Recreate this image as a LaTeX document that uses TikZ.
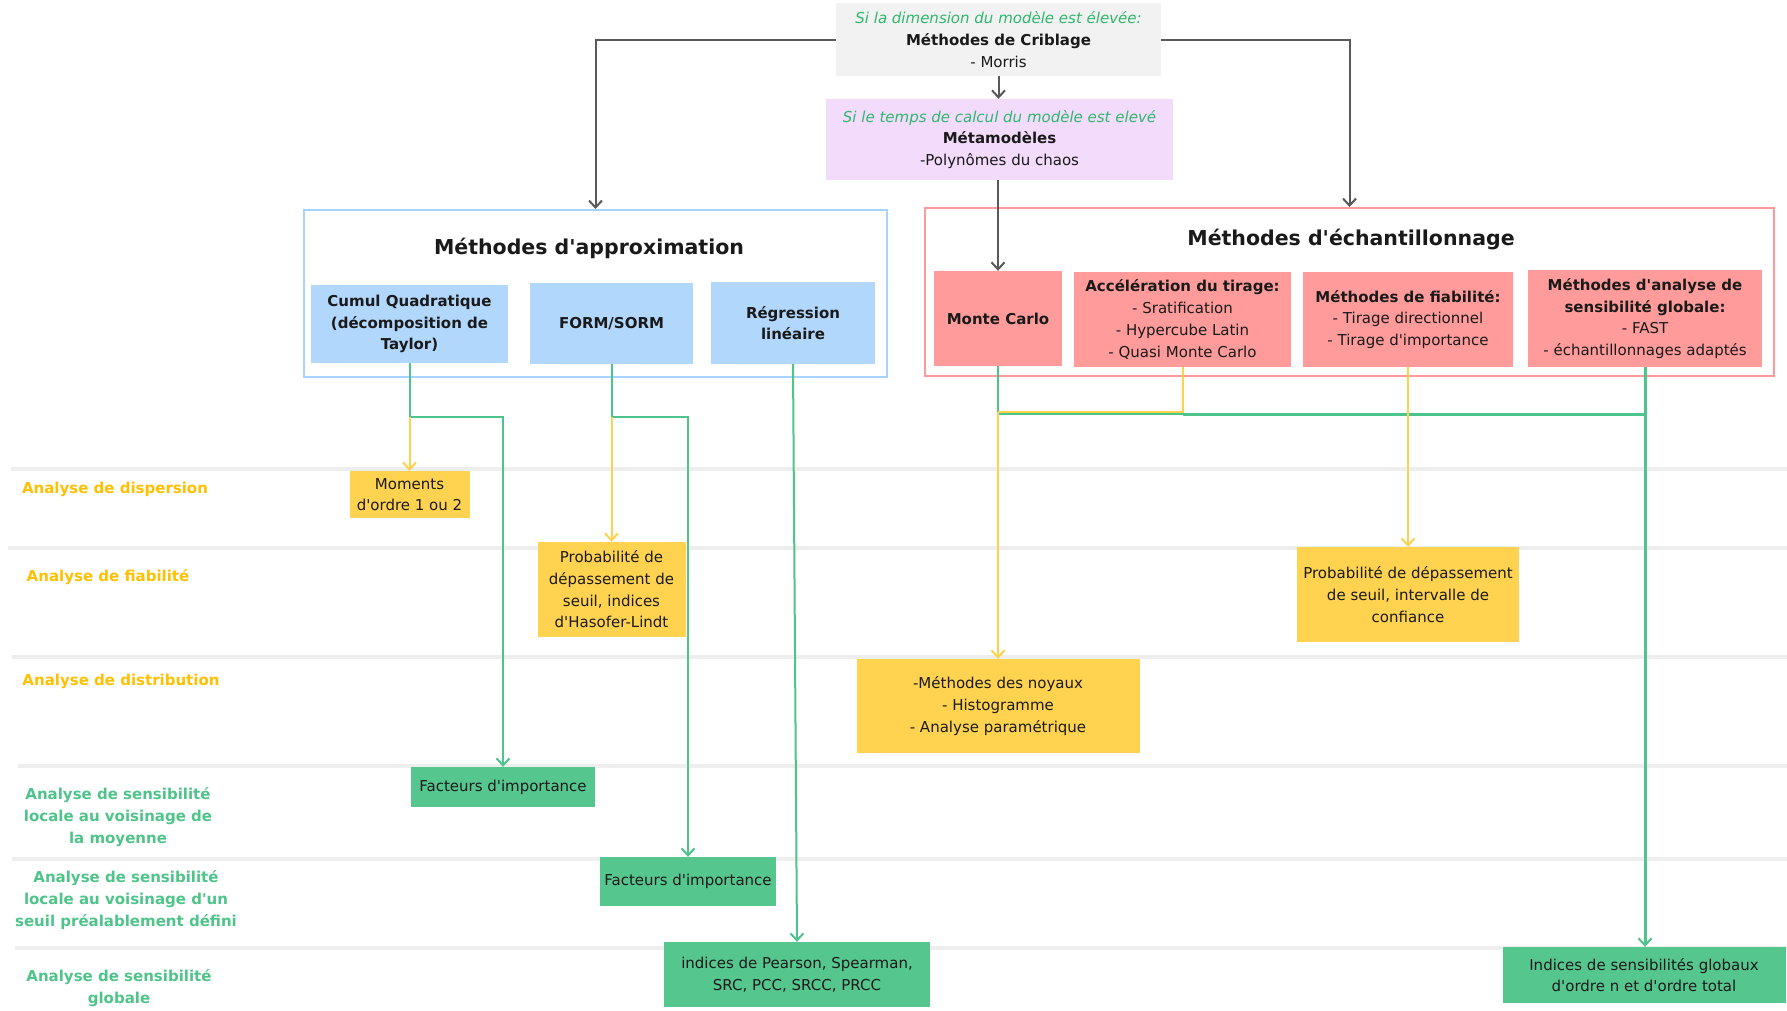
\documentclass[tikz,border=0pt]{standalone}
\usepackage{fontspec}
\setmainfont{DejaVu Sans}[Ligatures=TeXOff]
\usetikzlibrary{arrows.meta}
\definecolor{cgray}{HTML}{595959}
\definecolor{cribfill}{HTML}{F2F2F2}
\definecolor{metafill}{HTML}{F3DBFB}
\definecolor{bluebox}{HTML}{B1D7FD}
\definecolor{blueframe}{HTML}{A9D3FF}
\definecolor{redbox}{HTML}{FF9B9B}
\definecolor{redframe}{HTML}{FF9A9A}
\definecolor{yelbox}{HTML}{FFD34F}
\definecolor{grnbox}{HTML}{56C68F}
\definecolor{laborange}{HTML}{FFC000}
\definecolor{labgreen}{HTML}{4FC48A}
\definecolor{itgreen}{HTML}{2DB86C}
\definecolor{sepcol}{HTML}{EEEEEE}
\definecolor{ylinecol}{HTML}{FFD24D}
\definecolor{glinecol}{HTML}{4DC48B}
\definecolor{txt}{HTML}{1A1A1A}
\begin{document}
\begin{tikzpicture}[x=1pt,y=-1pt,
  base/.style={inner sep=2pt, align=center, text=txt, font=\fontsize{15}{21.7}\selectfont},
  bluecell/.style={base, fill=bluebox, font=\fontsize{15}{21.7}\selectfont\bfseries},
  redcell/.style={base, fill=redbox},
  yelcell/.style={base, fill=yelbox},
  grncell/.style={base, fill=grnbox},
  frame/.style={line width=2pt, fill=white, inner sep=0pt},
  title/.style={font=\fontsize{20.5}{24}\selectfont\bfseries, text=txt},
  rowlab/.style={align=center, font=\fontsize{15}{22}\selectfont\bfseries},
  tip/.style={-{Straight Barb[length=7pt,width=13pt,line width=2pt]}},
  grayarrow/.style={draw=cgray, line width=2pt},
  gline/.style={draw=glinecol, line width=2pt},
  yline/.style={draw=ylinecol, line width=2pt},
  sep/.style={draw=sepcol, line width=4pt}
]
\useasboundingbox (0,0) rectangle (1787,1010);
\fill[white] (0,0) rectangle (1787,1010);

% separators
\draw[sep] (11,469) -- (1787,469);
\draw[sep] (8,548) -- (1787,548);
\draw[sep] (12,657) -- (1787,657);
\draw[sep] (18,766) -- (1787,766);
\draw[sep] (12,859) -- (1787,859);
\draw[sep] (15,948) -- (1787,948);

% row labels
\node[rowlab, text=laborange] (lab1) at (115,489) {Analyse de dispersion};
\node[rowlab, text=laborange] (lab2) at (108,577) {Analyse de fiabilité};
\node[rowlab, text=laborange] (lab3) at (121,681) {Analyse de distribution};
\node[rowlab, text=labgreen] (lab4) at (118,817) {Analyse de sensibilité\\locale au voisinage de\\la moyenne};
\node[rowlab, text=labgreen] (lab5) at (126,900) {Analyse de sensibilité\\locale au voisinage d'un\\seuil préalablement défini};
\node[rowlab, text=labgreen] (lab6) at (119,988.5) {Analyse de sensibilité\\globale};

% top boxes
\node[base, fill=cribfill, minimum width=325pt, minimum height=73pt] (crib) at (998.5,39.5)
  {{\itshape\color{itgreen}Si la dimension du modèle est élevée:}\\\textbf{Méthodes de Criblage}\\- Morris};
\node[base, fill=metafill, minimum width=347pt, minimum height=81pt] (meta) at (999.5,139.5)
  {{\itshape\color{itgreen}Si le temps de calcul du modèle est elevé}\\\textbf{Métamodèles}\\-Polynômes du chaos};

% approximation frame
\node[frame, draw=blueframe, minimum width=583pt, minimum height=167pt] (approx) at (595.5,293.5) {};
\node[title] (approxT) at (589,248) {Méthodes d'approximation};
\node[bluecell, minimum width=197pt, minimum height=78pt] (cumul) at (409.5,324) {Cumul Quadratique\\(décomposition de\\Taylor)};
\node[bluecell, minimum width=163pt, minimum height=81pt] (form) at (611.5,323.5) {FORM/SORM};
\node[bluecell, minimum width=164pt, minimum height=82pt] (reg) at (793,323) {Régression\\linéaire};

% echantillonnage frame
\node[frame, draw=redframe, minimum width=849pt, minimum height=168pt] (ech) at (1349.5,292) {};
\node[title] (echT) at (1351,240) {Méthodes d'échantillonnage};
\node[redcell, minimum width=128pt, minimum height=95pt] (mc) at (998,318.5) {\textbf{Monte Carlo}};
\node[redcell, minimum width=217pt, minimum height=95pt] (acc) at (1182.5,319.5) {\textbf{Accélération du tirage:}\\- Sratification\\- Hypercube Latin\\- Quasi Monte Carlo};
\node[redcell, minimum width=210pt, minimum height=95pt] (fiab) at (1408,319.5) {\textbf{Méthodes de fiabilité:}\\- Tirage directionnel\\- Tirage d'importance};
\node[redcell, minimum width=234pt, minimum height=97pt] (sens) at (1645,318.5) {\textbf{Méthodes d'analyse de}\\\textbf{sensibilité globale:}\\- FAST\\- échantillonnages adaptés};

% result boxes
\node[yelcell, minimum width=120pt, minimum height=47pt] (moments) at (409.5,494.5) {Moments\\d'ordre 1 ou 2};
\node[yelcell, minimum width=148pt, minimum height=95pt] (probaF) at (611.5,589.5) {Probabilité de\\dépassement de\\seuil, indices\\d'Hasofer-Lindt};
\node[yelcell, minimum width=283pt, minimum height=94pt] (noyaux) at (998,706) {-Méthodes des noyaux\\- Histogramme\\- Analyse paramétrique};
\node[yelcell, minimum width=222pt, minimum height=95pt] (probaR) at (1408,594.5) {Probabilité de dépassement\\de seuil, intervalle de\\confiance};
\node[grncell, minimum width=184pt, minimum height=40pt] (fact1) at (503,787) {Facteurs d'importance};
\node[grncell, minimum width=176pt, minimum height=49pt] (fact2) at (688,881.5) {Facteurs d'importance};
\node[grncell, minimum width=266pt, minimum height=65pt] (pearson) at (797,974.5) {indices de Pearson, Spearman,\\SRC, PCC, SRCC, PRCC};
\node[grncell, minimum width=283pt, minimum height=56pt] (indices) at (1644,975) {Indices de sensibilités globaux\\d'ordre n et d'ordre total};

% gray connectors
\draw[grayarrow, tip] (crib.west) -| (approx.north);
\draw[grayarrow, tip] (crib.east) -| (ech.north);
\draw[grayarrow, tip] (crib.south) -- (crib.south |- meta.north);
\draw[grayarrow, tip] (meta.south -| mc.north) -- (mc.north);

% approximation connectors
\coordinate (jc) at (409.5,417);
\coordinate (jf) at (611.5,417);
\draw[gline, tip] (cumul.south) -- (jc) -| (fact1.north);
\draw[yline, tip] (jc) -- (moments.north);
\draw[gline, tip] (form.south) -- (jf) -| (fact2.north);
\draw[yline, tip] (jf) -- (probaF.north);
\draw[gline, tip] (reg.south) -- (pearson.north);

% echantillonnage connectors
\coordinate (jm) at (998,414);
\coordinate (js) at (1645,414);
\coordinate (ja) at (1182.5,411.5);
\coordinate (jy) at (998,411.5);
\draw[gline] (mc.south) -- (jm) -- (js);
\draw[gline, line width=3pt] (ja |- jm) -- (js);
\draw[gline, line width=3pt, tip] (sens.south) -- (js) -- (js |- indices.north);
\draw[yline] (acc.south) -- (ja) -- (jy);
\draw[yline, tip] (jy) -- (noyaux.north);
\draw[yline, tip] (fiab.south) -- (probaR.north);
\end{tikzpicture}
\end{document}
